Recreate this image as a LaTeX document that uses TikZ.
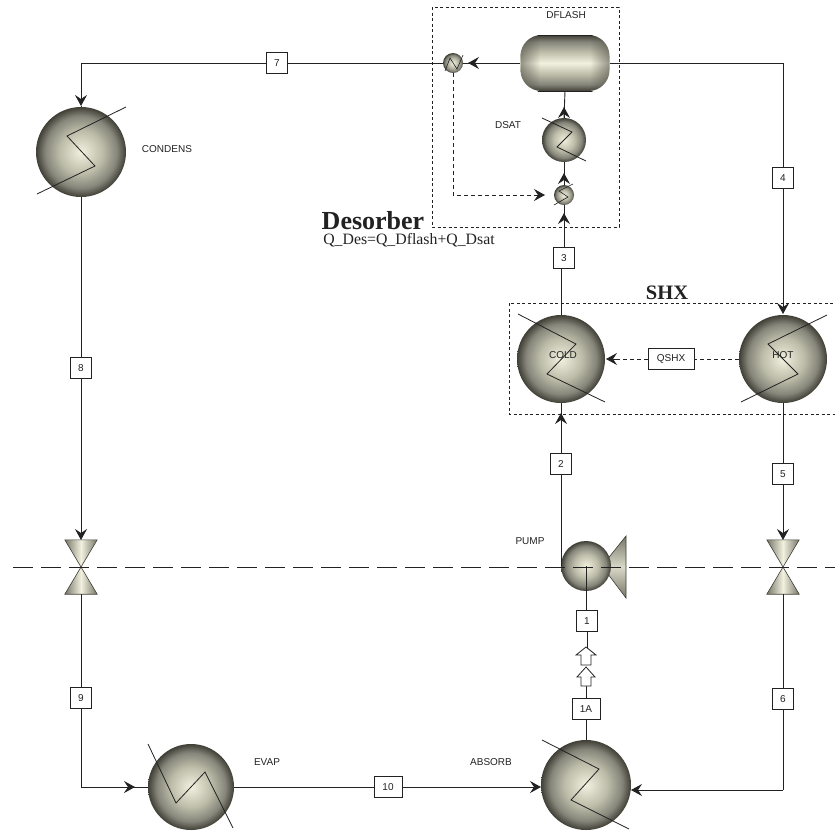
\documentclass[tikz,border=0pt]{standalone}
\usepackage{fontspec}
\setmainfont{Liberation Sans}
\newfontfamily\serifface{Liberation Serif}
\usetikzlibrary{arrows.meta,calc,fadings}
\definecolor{shadedark}{HTML}{3F3F36}
\definecolor{shademid}{HTML}{77776A}
\definecolor{shadelight}{HTML}{F2F1DF}
\definecolor{shadea}{HTML}{BDBCA9}
\definecolor{shadeb}{HTML}{85857A}
\definecolor{ink}{HTML}{222222}
\pgfdeclareradialshading{ballshade}{\pgfpointorigin}{color(0bp)=(shadelight); color(12bp)=(shadea); color(20bp)=(shadeb); color(25bp)=(shadedark); color(50bp)=(shadedark)}
\pgfdeclareverticalshading{flashshade}{100bp}{color(0bp)=(shadedark); color(25bp)=(shadedark); color(31bp)=(shadeb); color(40bp)=(shadea); color(50bp)=(shadelight); color(60bp)=(shadea); color(69bp)=(shadeb); color(75bp)=(shadedark); color(100bp)=(shadedark)}
\tikzset{
  x=1pt,y=-1pt,
  wire/.style={draw=ink,line width=0.9pt},
  sigwire/.style={draw=ink,line width=0.9pt,dash pattern=on 4pt off 3pt},
  tipped/.style={draw=ink,line width=0.9pt,-{Stealth[length=11pt,width=12pt,inset=4pt]}},
  ball/.style={circle,inner sep=0pt,minimum size=#1,draw=none,shading=ballshade},
  tag/.style={draw=ink,fill=white,line width=0.8pt,minimum height=21pt,minimum width=21pt,
    inner sep=0pt,font=\fontsize{10}{12}\selectfont,text=ink},
  label/.style={font=\fontsize{10}{12}\selectfont,text=ink,inner sep=0pt},
  zig/.style={draw=ink,line width=0.8pt,line join=miter},
  group/.style={draw=ink,line width=0.8pt,dash pattern=on 3pt off 2.5pt},
  cone/.style={draw=shadedark,line width=0.6pt,left color=shademid,right color=shademid,middle color=shadelight},
  pumpcone/.style={draw=shadedark,line width=0.6pt,top color=shademid,bottom color=shademid,middle color=shadelight!80!shademid},
  hollow/.style={draw=ink,fill=white,line width=0.8pt},
}
\begin{document}
\begin{tikzpicture}
\useasboundingbox (0,0) rectangle (835,831);
\fill[white] (0,0) rectangle (835,831);

% group frames
\draw[group] (432,7) rectangle (619,227);
\draw[group] (509,303) rectangle (835,414);

% equipment
\node[ball=90pt] (cond) at (81,152) {};
\node[ball=20pt] (hxa) at (453,63) {};
\node[ball=44pt] (dsat) at (564,140) {};
\node[ball=20pt] (hxb) at (564,195) {};
\node[ball=88pt] (cold) at (561,359) {};
\node[ball=88pt] (hot) at (783,359) {};
\node[ball=90pt] (absorb) at (586,785) {};
\node[ball=86pt] (evap) at (191,787) {};
\node[rectangle,rounded corners=21pt,minimum width=89pt,minimum height=56pt,inner sep=0pt,
  shading=flashshade] (flash) at (565,63) {};
\begin{scope}
  \clip[rounded corners=21pt] (520.5,35) rectangle (609.5,91);
  \fill[shadedark,opacity=0.7,path fading=east] (514,35) rectangle (540,91);
  \fill[shadedark,opacity=0.7,path fading=west] (590,35) rectangle (616,91);
\end{scope}
\draw[draw=ink,line width=1pt,line cap=round] (538,35) -- (592,35);
\draw[draw=ink,line width=1pt,line cap=round] (538,91) -- (592,91);

% valves
\node[minimum width=32pt,minimum height=54pt,inner sep=0pt] (vleft) at (81,567) {};
\node[minimum width=32pt,minimum height=54pt,inner sep=0pt] (vright) at (783,567) {};
\foreach \v in {vleft,vright}{
  \path[cone] (\v.north west) -- (\v.north east) -- (\v.center) -- cycle;
  \path[cone] (\v.south west) -- (\v.south east) -- (\v.center) -- cycle;
}

% pump
\path[pumpcone] (602,566) -- (626,536) -- (626,598) -- cycle;
\node[ball=50pt] (pump) at (586,566) {};

% zigzags
\draw[zig] (37,194) -- (95,166) -- (67,136) -- (126,107);
\draw[zig] (518,314) -- (576,344) -- (547,374) -- (605,402);
\draw[zig] (827,315) -- (768,344) -- (798,374) -- (741,402);
\draw[zig] (542,740) -- (599,769) -- (571,800) -- (629,829);
\draw[zig] (148,744) -- (176,803) -- (205,772) -- (233,828);
\draw[zig] (542,118) -- (572,132) -- (557,147) -- (586,161);
\draw[zig,line width=0.6pt] (554,205) -- (568,197) -- (559,191) -- (573,184);
\draw[zig,line width=0.6pt] (445,71) -- (450,58) -- (457,69) -- (463,55);

% stream tags
\node[tag] (s7) at (277,63) {7};
\node[tag] (s4) at (783,178) {4};
\node[tag] (s3) at (564,258) {3};
\node[tag] (s8) at (81,368) {8};
\node[tag] (s2) at (561,464) {2};
\node[tag] (s5) at (783,474) {5};
\node[tag] (s1) at (587,621) {1};
\node[tag,minimum width=28pt] (s1a) at (586,709) {1A};
\node[tag] (s9) at (81,698) {9};
\node[tag] (s6) at (783,699) {6};
\node[tag,minimum width=28pt] (s10) at (388,787) {10};
\node[tag,minimum width=46pt] (qshx) at (671,359) {QSHX};

% free arrow tip points
\coordinate (t1) at (81,106);
\coordinate (t2) at (468,63);
\coordinate (t3) at (564,107);
\coordinate (t4) at (564,173);
\coordinate (t5) at (564,213);
\coordinate (t6) at (561,413);
\coordinate (t7) at (783,314);
\coordinate (t8) at (81,540);
\coordinate (t9) at (783,540);
\coordinate (t10) at (135,787);
\coordinate (t11) at (541,787);
\coordinate (t12) at (631,790);
\coordinate (t13) at (545,195);
\coordinate (t13s) at (534,195);
\coordinate (t14) at (606,359);
\coordinate (t14s) at (617,359);
\coordinate (corner7) at (81,63);
\coordinate (corner4) at (783,63);
\coordinate (corner9) at (81,787);
\coordinate (corner6) at (783,790);
\coordinate (pumpout) at (561,566);

% connectors
\draw[wire] (hxa.east) -- (flash.west);
\draw[tipped] (flash.west) -- (t2);
\draw[wire] (hxa.west) -- (s7.east);
\draw[wire] (s7.west) -- (corner7);
\draw[tipped] (corner7) -- (t1);
\draw[wire] (t1) -- (cond.north);
\draw[wire] (cond.south) -- (s8.north);
\draw[tipped] (s8.south) -- (t8);
\draw[wire] (vleft.south) -- (s9.north);
\draw[wire] (s9.south) -- (corner9) -- (evap.west);
\draw[tipped] (corner9) -- (t10);
\draw[wire] (evap.east) -- (s10.west);
\draw[tipped] (s10.east) -- (t11);
\draw[wire] (vright.south) -- (s6.north);
\draw[wire] (s6.south) -- (corner6);
\draw[tipped] (corner6) -- (t12);
\draw[wire] (flash.east) -- (corner4) -- (s4.north);
\draw[tipped] (s4.south) -- (t7);
\draw[wire] (hot.south) -- (s5.north);
\draw[tipped] (s5.south) -- (t9);
\draw[wire] (s3.north) -- (hxb.south);
\draw[tipped] (s3.north) -- (t5);
\draw[wire] (hxb.north) -- (dsat.south);
\draw[tipped] (hxb.north) -- (t4);
\draw[wire] (dsat.north) -- (flash.south);
\draw[tipped] (dsat.north) -- (t3);
\draw[wire] (cold.north) -- (cold.north |- s3.south);
\draw[wire] (pumpout) -- (s2.south);
\draw[wire] (s2.north) -- (cold.south);
\draw[tipped] (s2.north) -- (t6);
\draw[wire] (pump.center) -- (pump.center |- s1.north);
\draw[wire] (s1a.south) -- (absorb.north);

% signal lines
\draw[sigwire] (hxa.south) |- (t13s);
\draw[tipped] (t13s) -- (t13);
\draw[sigwire] (hot.west) -- (qshx.east);
\draw[sigwire] (qshx.west) -- (t14s);
\draw[tipped] (t14s) -- (t14);

% hollow block arrows between tags 1A and 1
\node[inner sep=0pt,minimum size=0pt] (ha) at (586,656) {};
\node[inner sep=0pt,minimum size=0pt] (hb) at (586,677) {};
\draw[wire] (s1.south) -- (s1.south |- ha);
\draw[wire] (hb) -- (s1a.north);
\draw[hollow] (586,647) -- (596,655) -- (591,655) -- (591,665) -- (581,665) -- (581,655) -- (576,655) -- cycle;
\draw[hollow] (586,667) -- (595,677) -- (591,677) -- (591,686) -- (581,686) -- (581,677) -- (577,677) -- cycle;

% centre line
\draw[draw=ink,line width=0.9pt,dash pattern=on 20pt off 8pt] (13,567) -- (835,567);

% labels
\node[label] at (566,15) {DFLASH};
\node[label] at (508,125) {DSAT};
\node[label] at (167,149) {CONDENS};
\node[label] at (530,541) {PUMP};
\node[label] at (267,762) {EVAP};
\node[label] at (491,762) {ABSORB};
\node[label] at (563,355) {COLD};
\node[label] at (783,355) {HOT};
\node[inner sep=0pt,font=\serifface\bfseries\fontsize{26}{28}\selectfont,text=ink] at (373,220.5) {Desorber};
\node[inner sep=0pt,font=\serifface\fontsize{15.8}{18}\selectfont,text=ink] at (409,240.5) {Q\_Des=Q\_Dflash+Q\_Dsat};
\node[inner sep=0pt,font=\serifface\bfseries\fontsize{20.5}{22}\selectfont,text=ink] at (667,293) {SHX};
\end{tikzpicture}
\end{document}
